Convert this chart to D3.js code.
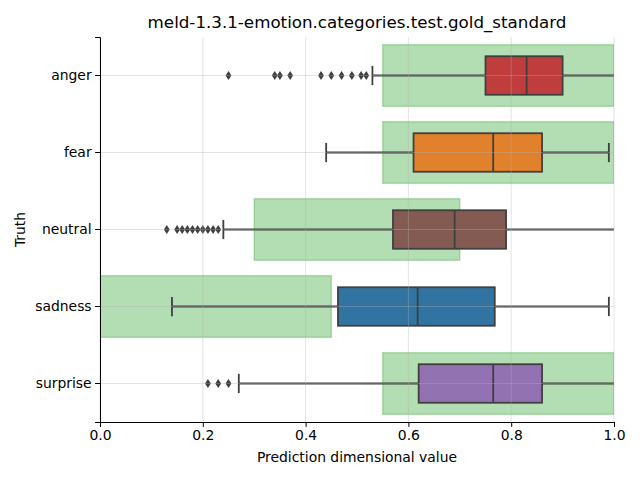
<!DOCTYPE html>
<html><head><meta charset="utf-8">
<script src="https://cdn.jsdelivr.net/npm/d3@7"></script>
<style>body{margin:0;background:#fff}</style>
</head><body>
<svg id="c" width="640" height="480"></svg>
<script>
const categories = ["anger","fear","neutral","sadness","surprise"];
const colors = ["#c03d3e","#e1812c","#845b53","#3274a1","#9372b2"];
// box stats: [whiskerLow, q1, median, q3, whiskerHigh]
const boxStats = [
  [0.53, 0.75, 0.83, 0.90, 1.00],
  [0.44, 0.61, 0.765, 0.86, 0.99],
  [0.24, 0.57, 0.69, 0.79, 1.00],
  [0.14, 0.463, 0.618, 0.768, 0.99],
  [0.27, 0.62, 0.765, 0.86, 1.00]
];
const outliers = [
  [0.25,0.34,0.35,0.37,0.43,0.45,0.47,0.49,0.508,0.518],
  [],
  [0.13,0.15,0.16,0.17,0.18,0.19,0.20,0.21,0.22,0.23],
  [],
  [0.21,0.23,0.25]
];
// gold standard ranges [low, high]
const goldRanges = [
  [0.55,1.0],[0.55,1.0],[0.3,0.7],[0.0,0.45],[0.55,1.0]
];
const xTicks = [0,0.2,0.4,0.6,0.8,1.0];

const W=640,H=480,m={l:100,r:26,t:37,b:58};
const svg=d3.select("#c");
const x=d3.scaleLinear().domain([0,1]).range([m.l,W-m.r]);
const y=d3.scaleBand().domain(categories).range([m.t,H-m.b]);
const bw=y.bandwidth();
const font="DejaVu Sans, sans-serif";
const dark="#3f3f3f";

svg.append("defs").append("clipPath").attr("id","clip").append("rect")
  .attr("x",m.l).attr("y",m.t).attr("width",W-m.l-m.r).attr("height",H-m.t-m.b);
const g=svg.append("g").attr("clip-path","url(#clip)");

// gold rectangles
g.selectAll("rect.gold").data(categories).join("rect")
  .attr("x",(d,i)=>x(goldRanges[i][0]))
  .attr("width",(d,i)=>x(goldRanges[i][1])-x(goldRanges[i][0]))
  .attr("y",d=>y(d)+bw*0.1).attr("height",bw*0.8)
  .attr("fill","#2ca02c").attr("fill-opacity",0.36)
  .attr("stroke","#2ca02c").attr("stroke-opacity",0.3).attr("stroke-width",1.5);

categories.forEach((c,i)=>{
  const s=boxStats[i];
  const cy=y(c)+bw/2;
  const bh=bw*0.5;
  // whiskers
  g.append("line").attr("x1",x(s[0])).attr("x2",x(s[1])).attr("y1",cy).attr("y2",cy).attr("stroke",dark).attr("stroke-width",1.8);
  g.append("line").attr("x1",x(s[3])).attr("x2",x(s[4])).attr("y1",cy).attr("y2",cy).attr("stroke",dark).attr("stroke-width",1.8);
  // caps (a cap at the axis limit lies outside the visible area)
  [s[0],s[4]].filter(v=>v<1).forEach(v=>{
    g.append("line").attr("x1",x(v)).attr("x2",x(v)).attr("y1",cy-bh/4).attr("y2",cy+bh/4).attr("stroke",dark).attr("stroke-width",1.8);
  });
  // box
  g.append("rect").attr("x",x(s[1])).attr("width",x(s[3])-x(s[1]))
    .attr("y",cy-bh/2).attr("height",bh).attr("fill",colors[i]).attr("stroke",dark).attr("stroke-width",1.8);
  g.append("line").attr("x1",x(s[2])).attr("x2",x(s[2])).attr("y1",cy-bh/2).attr("y2",cy+bh/2).attr("stroke",dark).attr("stroke-width",1.8);
  // outliers (thin diamonds)
  g.selectAll(null).data(outliers[i]).join("path")
    .attr("d",v=>{const px=x(v);return `M${px},${cy-4.6}L${px+2.9},${cy}L${px},${cy+4.6}L${px-2.9},${cy}Z`;})
    .attr("fill",dark);
});

// grid on top
const grid=svg.append("g");
xTicks.forEach(t=>{
  grid.append("line").attr("x1",x(t)).attr("x2",x(t)).attr("y1",m.t).attr("y2",H-m.b)
    .attr("stroke","#b0b0b0").attr("stroke-opacity",0.45).attr("stroke-width",0.8);
});
categories.forEach(c=>{
  grid.append("line").attr("x1",m.l).attr("x2",W-m.r).attr("y1",y(c)+bw/2).attr("y2",y(c)+bw/2)
    .attr("stroke","#b0b0b0").attr("stroke-opacity",0.45).attr("stroke-width",0.8);
});

// axes
const xAxis=svg.append("g").attr("transform",`translate(0,${H-m.b})`)
  .call(d3.axisBottom(x).tickValues(xTicks).tickFormat(d3.format(".1f")).tickSizeOuter(0).tickSize(4.9).tickPadding(3.5));
const yAxis=svg.append("g").attr("transform",`translate(${m.l},0)`)
  .call(d3.axisLeft(y).tickSizeOuter(0).tickSize(4.9).tickPadding(3.5));
[xAxis,yAxis].forEach(a=>{
  a.selectAll("text").attr("font-family",font).attr("font-size","13.9px").attr("fill","#000");
  a.selectAll("line").attr("stroke","#000").attr("stroke-width",1);
  a.select(".domain").attr("stroke","#000").attr("stroke-width",1);
});

svg.append("text").attr("x",(m.l+W-m.r)/2).attr("y",28).attr("text-anchor","middle")
  .attr("font-family",font).attr("font-size","16.7px").text("meld-1.3.1-emotion.categories.test.gold_standard");
svg.append("text").attr("x",(m.l+W-m.r)/2).attr("y",462).attr("text-anchor","middle")
  .attr("font-family",font).attr("font-size","13.9px").text("Prediction dimensional value");
svg.append("text").attr("transform",`translate(25,${(m.t+H-m.b)/2}) rotate(-90)`).attr("text-anchor","middle")
  .attr("font-family",font).attr("font-size","13.9px").text("Truth");
</script>
</body></html>
